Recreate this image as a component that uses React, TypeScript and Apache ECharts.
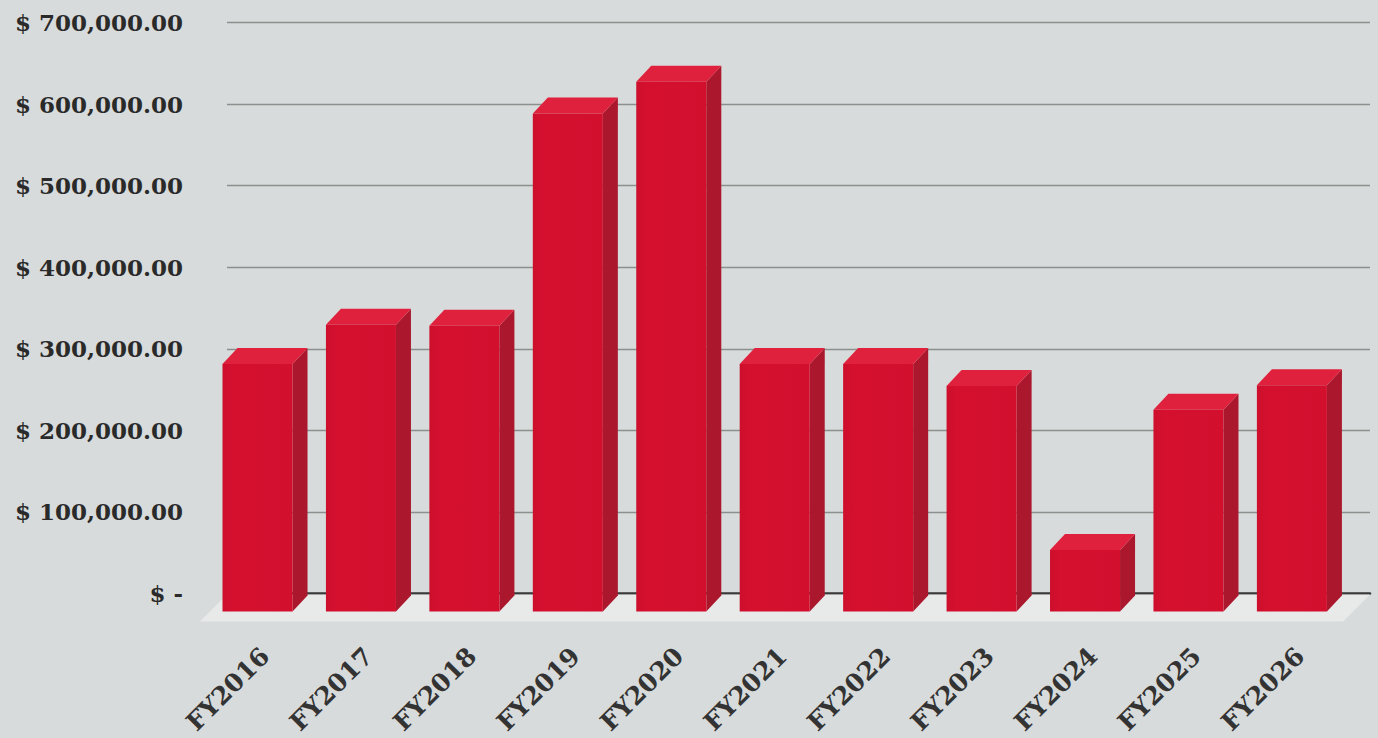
import React, { useEffect, useRef } from "react";
import * as echarts from "echarts";

const categories = ["FY2016", "FY2017", "FY2018", "FY2019", "FY2020", "FY2021", "FY2022", "FY2023", "FY2024", "FY2025", "FY2026"];
const values = [301000, 349000, 348000, 608000, 647000, 301000, 301000, 274000, 73000, 245000, 275000];
const yTicks = [0, 100000, 200000, 300000, 400000, 500000, 600000, 700000];

const DX = -15;
const DY = 16;

function fmt(v: number): string {
  if (v === 0) return "$ -";
  return "$ " + v.toLocaleString("en-US", { minimumFractionDigits: 2, maximumFractionDigits: 2 });
}

export default function App() {
  const ref = useRef<HTMLDivElement>(null);
  useEffect(() => {
    if (!ref.current) return;
    const chart = echarts.init(ref.current, undefined, { renderer: "svg" });
    const barData = values.map((v, i) => [i, v]);
    const option: any = {
      animation: false,
      backgroundColor: "#d8dbdb",
      grid: [
        { left: 227, top: 22.5, width: 1143, height: 571 },
        { left: 213.25, top: 600, width: 1138.5, height: 40 },
      ],
      xAxis: [
        {
          type: "value",
          gridIndex: 0,
          min: -0.44,
          max: 10.61,
          axisLine: { show: true, onZero: false, lineStyle: { color: "#3a3a3a", width: 2.5 } },
          axisTick: { show: false },
          axisLabel: { show: false },
          splitLine: { show: false },
        },
        {
          type: "category",
          gridIndex: 1,
          data: categories,
          axisLine: { show: false },
          axisTick: { show: false },
          axisLabel: {
            rotate: 45,
            margin: 12,
            interval: 0,
            color: "#333333",
            fontFamily: "DejaVu Serif",
            fontWeight: "bold",
            fontSize: 25,
          },
        },
      ],
      yAxis: [
        {
          type: "value",
          gridIndex: 0,
          min: yTicks[0],
          max: yTicks[yTicks.length - 1],
          interval: yTicks[1] - yTicks[0],
          axisLine: { show: false },
          axisTick: { show: false },
          axisLabel: {
            margin: 44,
            formatter: (v: number) => fmt(v),
            color: "#2a2a2a",
            fontFamily: "DejaVu Serif",
            fontWeight: "bold",
            fontSize: 23,
          },
          splitLine: { show: true, lineStyle: { color: "#8a908d", width: 1.3 } },
        },
        { type: "value", gridIndex: 1, show: false },
      ],
      series: [
        {
          type: "custom",
          name: "floor",
          xAxisIndex: 0,
          yAxisIndex: 0,
          z: 1,
          data: [[0, 0]],
          renderItem: (params: any, api: any) => {
            const cs = params.coordSys;
            const by = cs.y + cs.height;
            return {
              type: "polygon",
              shape: {
                points: [
                  [cs.x, by + 1],
                  [cs.x + cs.width, by + 1],
                  [cs.x + cs.width - 27, by + 28],
                  [cs.x - 27, by + 28],
                ],
              },
              style: { fill: "#e8eaea" },
            };
          },
        },
        {
          type: "custom",
          name: "values",
          xAxisIndex: 0,
          yAxisIndex: 0,
          z: 3,
          data: barData,
          renderItem: (params: any, api: any) => {
            const i = api.value(0);
            const v = api.value(1);
            const top = api.coord([i, v]);
            const base = api.coord([i, 0]);
            const w = api.size([1, 0])[0] * 0.677;
            const bl = top[0] - w / 2;
            const br = top[0] + w / 2;
            const ty = top[1];
            const by = base[1] + 2;
            const fl = bl + DX;
            const fr = br + DX;
            const fty = ty + DY;
            const fby = by + DY;
            return {
              type: "group",
              children: [
                {
                  type: "polygon",
                  shape: { points: [[fr, fty], [br, ty], [br, by], [fr, fby]] },
                  style: { fill: "#ab172c" },
                },
                {
                  type: "polygon",
                  shape: { points: [[fl, fty], [bl, ty], [br, ty], [fr, fty]] },
                  style: { fill: "#e0213d" },
                },
                {
                  type: "rect",
                  shape: { x: fl, y: fty, width: w, height: fby - fty },
                  style: {
                    fill: {
                      type: "linear",
                      x: 0, y: 0, x2: 1, y2: 0,
                      colorStops: [
                        { offset: 0, color: "#cc0f2c" },
                        { offset: 0.15, color: "#d5102f" },
                        { offset: 1, color: "#d2102e" },
                      ],
                    },
                  },
                },
              ],
            };
          },
        },
      ],
    };
    chart.setOption(option);
    return () => chart.dispose();
  }, []);
  return <div ref={ref} style={{ position: "absolute", left: 0, top: 0, width: 1378, height: 738 }} />;
}
